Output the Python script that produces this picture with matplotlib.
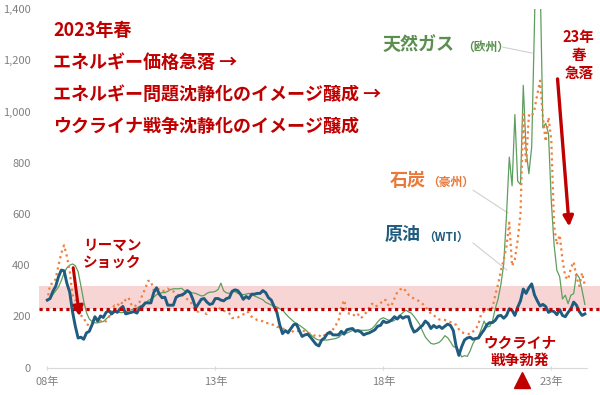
import matplotlib
matplotlib.use("Agg")
import matplotlib.pyplot as plt
import numpy as np

plt.rcParams['font.family'] = ['Noto Sans CJK JP', 'DejaVu Sans']

# ---- data (index values, monthly, Jan 2008 - Jan 2024) ----
start_year = 2008
crude_wti = [
    264, 270, 298, 318, 355, 381, 378, 329, 295, 219, 162, 116,   # 2008
    119, 111, 136, 142, 168, 199, 182, 202, 196, 216, 222, 210,   # 2009
    222, 216, 230, 239, 210, 213, 216, 219, 213, 233, 239, 253,   # 2010
    253, 253, 293, 312, 287, 273, 275, 244, 244, 244, 275, 281,   # 2011
    284, 290, 301, 293, 267, 233, 250, 267, 270, 256, 247, 250,   # 2012
    270, 270, 264, 261, 270, 273, 298, 304, 301, 287, 267, 278,   # 2013
    270, 287, 287, 290, 290, 301, 293, 273, 264, 239, 216, 168,   # 2014
    133, 145, 136, 153, 168, 170, 145, 122, 128, 131, 119, 105,   # 2015
    91, 85, 108, 116, 133, 139, 128, 128, 128, 142, 131, 148,     # 2016
    151, 153, 142, 145, 139, 128, 133, 136, 142, 148, 162, 165,   # 2017
    182, 176, 179, 187, 199, 190, 202, 193, 199, 199, 162, 139,   # 2018
    145, 156, 165, 182, 173, 153, 165, 156, 162, 153, 162, 170,   # 2019
    165, 145, 85, 48, 82, 108, 116, 119, 111, 114, 116, 133,      # 2020
    148, 168, 176, 176, 185, 202, 204, 193, 204, 230, 224, 204,   # 2021
    236, 261, 307, 290, 312, 327, 284, 261, 241, 247, 239, 216,   # 2022
    222, 219, 207, 227, 204, 199, 216, 230, 256, 244, 219, 204,   # 2023
    210,                                                          # 2024
]
coal_aus = [
    260, 325, 329, 347, 400, 447, 478, 434, 377, 284, 267, 214,   # 2008
    204, 197, 169, 166, 168, 192, 186, 183, 177, 182, 198, 227,   # 2009
    243, 240, 258, 249, 266, 274, 247, 237, 246, 257, 285, 309,   # 2010
    339, 338, 302, 309, 305, 298, 301, 309, 301, 298, 289, 281,   # 2011
    287, 275, 267, 259, 242, 220, 219, 230, 215, 209, 223, 231,   # 2012
    232, 238, 225, 222, 219, 212, 194, 194, 196, 203, 208, 219,   # 2013
    215, 199, 192, 186, 184, 181, 174, 174, 169, 167, 159, 158,   # 2014
    153, 150, 146, 135, 145, 144, 142, 144, 142, 136, 132, 127,   # 2015
    124, 121, 132, 126, 127, 133, 149, 166, 181, 237, 264, 218,   # 2016
    210, 211, 200, 208, 193, 204, 217, 235, 250, 238, 243, 251,   # 2017
    266, 263, 240, 245, 270, 295, 305, 312, 300, 285, 275, 270,   # 2018
    265, 258, 250, 235, 228, 210, 205, 195, 188, 188, 186, 182,   # 2019
    178, 170, 168, 150, 138, 135, 133, 130, 141, 149, 171, 211,   # 2020
    220, 219, 238, 233, 284, 326, 379, 421, 474, 566, 397, 424,   # 2021
    498, 601, 989, 797, 985, 979, 1009, 1066, 1120, 977, 883, 977,  # 2022
    890, 553, 481, 518, 422, 355, 344, 389, 413, 353, 319, 370,   # 2023
    320,                                                          # 2024
]
gas_eu = [
    262, 270, 285, 300, 315, 340, 370, 390, 400, 405, 398, 375,   # 2008
    320, 260, 215, 190, 180, 175, 175, 178, 180, 190, 200, 210,   # 2009
    215, 218, 215, 215, 218, 222, 226, 230, 232, 240, 245, 250,   # 2010
    262, 268, 275, 285, 290, 293, 293, 298, 305, 308, 308, 308,   # 2011
    310, 300, 298, 292, 292, 290, 285, 280, 282, 290, 295, 295,   # 2012
    298, 305, 330, 300, 292, 290, 295, 297, 290, 287, 285, 287,   # 2013
    290, 285, 280, 275, 270, 265, 255, 250, 245, 240, 237, 230,   # 2014
    225, 212, 200, 190, 180, 172, 166, 158, 150, 140, 130, 120,   # 2015
    112, 108, 108, 108, 108, 110, 112, 114, 118, 128, 135, 135,   # 2016
    140, 145, 146, 146, 146, 146, 146, 148, 153, 164, 179, 190,   # 2017
    195, 190, 185, 180, 185, 195, 205, 215, 225, 218, 213, 200,   # 2018
    185, 169, 143, 120, 107, 95, 92, 95, 99, 110, 125, 117,       # 2019
    101, 83, 78, 68, 42, 47, 44, 65, 94, 112, 122, 151,           # 2020
    182, 159, 161, 182, 231, 268, 325, 403, 593, 822, 710, 988,   # 2021
    728, 715, 1102, 850, 757, 861, 1347, 1820, 1537, 936, 954, 913,  # 2022
    650, 480, 380, 355, 268, 283, 250, 283, 289, 367, 351, 302,   # 2023
    247,                                                          # 2024
]
x_tick_years = [2008, 2013, 2018, 2023]
x_tick_labels = ['08年', '13年', '18年', '23年']
y_ticks = [0, 200, 400, 600, 800, 1000, 1200, 1400]
y_tick_labels = ['0', '200', '400', '600', '800', '1,000', '1,200', '1,400']
band_range = (228, 320)
ref_level = 228
war_start = 2022 + 1.5 / 12

# ---- figure ----
RED = '#C00000'
BLUE = '#1F5C7F'
GREEN = '#5E9E5E'
ORANGE = '#EE8040'
fig = plt.figure(figsize=(6.0, 3.95), dpi=100)
ax = fig.add_axes([39 / 600, 27.3 / 395, 561 / 600, 358.7 / 395])

t = start_year + np.arange(len(crude_wti)) / 12.0
ax.set_xlim(2007.753, 2024.45)
ax.set_ylim(0, 1400)

ax.axhspan(band_range[0], band_range[1], color='#F8D5D5', zorder=0, lw=0)
ax.plot(t, gas_eu, color=GREEN, lw=0.9, zorder=2)
ax.plot(t, coal_aus, color=ORANGE, lw=1.6, ls=(0, (1, 1.6)), zorder=3)
ax.plot(t, crude_wti, color=BLUE, lw=2.1, zorder=4)
ax.axhline(ref_level, color=RED, lw=2.3, ls=(0, (1, 1.1)), zorder=5)

# axes styling
for s in ['left', 'right', 'top']:
    ax.spines[s].set_visible(False)
ax.spines['bottom'].set_color('#d9d9d9')
ax.spines['bottom'].set_bounds(2008, 2024.06)
ax.set_xticks(x_tick_years)
ax.set_xticklabels(x_tick_labels)
ax.set_yticks(y_ticks)
ax.set_yticklabels(y_tick_labels)
ax.tick_params(axis='y', length=0, pad=6, labelsize=8, labelcolor='#808080')
ax.tick_params(axis='x', length=3, color='#d9d9d9', pad=5, labelsize=8,
               labelcolor='#808080', direction='inout')

# ---- annotations ----
lines = ['2023年春', 'エネルギー価格急落 →', 'エネルギー問題沈静化のイメージ醸成 →',
         'ウクライナ戦争沈静化のイメージ醸成']
for txt, yv in zip(lines, [1317, 1192, 1067, 942]):
    ax.text(2008.17, yv, txt, color=RED, fontsize=13, fontweight='bold',
            va='center', ha='left')

# series labels
ax.text(2017.99, 1259, '天然ガス', color='#5A8F4E', fontsize=13, fontweight='bold',
        va='center', ha='left')
ax.text(2020.35, 1251, '（欧州）', color='#5A8F4E', fontsize=8.5, fontweight='bold',
        va='center', ha='left')
ax.plot([2021.56, 2022.43], [1251, 1228], color='#d0d0d0', lw=0.8, zorder=1)

ax.text(2018.2, 732, '石炭', color='#E8793A', fontsize=13, fontweight='bold',
        va='center', ha='left')
ax.text(2019.3, 722, '（豪州）', color='#E8793A', fontsize=8.5, fontweight='bold',
        va='center', ha='left')
ax.plot([2020.67, 2021.71], [693, 604], color='#d0d0d0', lw=0.8, zorder=1)

ax.text(2018.05, 518, '原油', color=BLUE, fontsize=13, fontweight='bold',
        va='center', ha='left')
ax.text(2019.2, 510, '（WTI）', color=BLUE, fontsize=8.5, fontweight='bold',
        va='center', ha='left')
ax.plot([2020.67, 2021.68], [487, 381], color='#d0d0d0', lw=0.8, zorder=1)

# Lehman
ax.text(2009.06, 479, 'リーマン', color=RED, fontsize=10.5, fontweight='bold',
        va='center', ha='left')
ax.text(2009.06, 412, 'ショック', color=RED, fontsize=10.5, fontweight='bold',
        va='center', ha='left')
ax.annotate('', xy=(2008.97, 190), xytext=(2008.76, 401),
            arrowprops=dict(arrowstyle='-|>,head_length=0.6,head_width=0.3',
                            color=RED, lw=2.2), zorder=6)

# 2023 spring drop
for txt, yv in zip(['23年', '春', '急落'], [1290, 1220, 1150]):
    ax.text(2023.82, yv, txt, color=RED, fontsize=10.5, fontweight='bold',
            va='center', ha='center')
ax.annotate('', xy=(2023.54, 540), xytext=(2023.18, 1138),
            arrowprops=dict(arrowstyle='-|>,head_length=0.6,head_width=0.3',
                            color=RED, lw=2.4), zorder=6)

# Ukraine
ax.text(2022.07, 96, 'ウクライナ', color=RED, fontsize=10.5, fontweight='bold',
        va='center', ha='center')
ax.text(2022.07, 30, '戦争勃発', color=RED, fontsize=10.5, fontweight='bold',
        va='center', ha='center')
ax.plot([war_start], [-48], marker='^', color=RED, markersize=11, clip_on=False,
        zorder=6)

fig.savefig('out.png', dpi=100)
